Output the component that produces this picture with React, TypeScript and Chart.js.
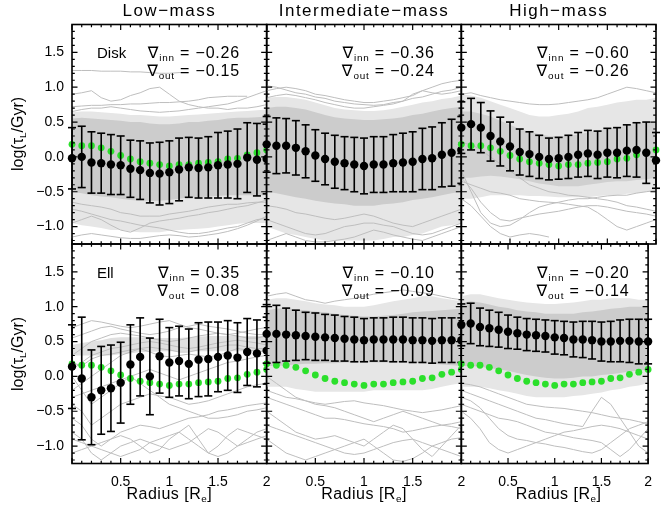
import React, { useEffect, useRef } from "react";
import { Chart, registerables } from "chart.js";

Chart.register(...registerables);

// ---------------- data ----------------
const RADIUS = [0, 0.1, 0.2, 0.3, 0.4, 0.5, 0.6, 0.7, 0.8, 0.9, 1, 1.1, 1.2, 1.3, 1.4, 1.5, 1.6, 1.7, 1.8, 1.9, 2];
const X_TICKS = [0.5, 1, 1.5, 2];
const Y_TICKS = [-1, -0.5, 0, 0.5, 1, 1.5];
const Y_MIN = -1.25;
const Y_MAX = 1.9;
const COLUMN_TITLES = ["Low\u2212mass", "Intermediate\u2212mass", "High\u2212mass"];
const ROW_LABELS = ["Disk", "Ell"];

// reference profile (green)
const GREEN_PROFILE = [0.18, 0.16, 0.16, 0.13, 0.08, 0.02, -0.03, -0.07, -0.09, -0.11, -0.13, -0.11, -0.11, -0.09, -0.08, -0.07, -0.03, -0.02, 0.03, 0.06, 0.1];

// gradients
const GRAD_INN = ["\u22120.26", "\u22120.36", "\u22120.60", "0.35", "\u22120.10", "\u22120.20"];
const GRAD_OUT = ["\u22120.15", "\u22120.24", "\u22120.26", "0.08", "\u22120.09", "\u22120.14"];

// ---- Disk, low mass
const LOW_DISK_MEAN = [-0.02, 0.0, -0.08, -0.09, -0.11, -0.12, -0.17, -0.19, -0.23, -0.24, -0.22, -0.18, -0.15, -0.16, -0.15, -0.12, -0.11, -0.1, -0.01, -0.04, -0.03];
const LOW_DISK_ERR = [0.44, 0.44, 0.44, 0.43, 0.43, 0.42, 0.41, 0.42, 0.43, 0.45, 0.45, 0.45, 0.43, 0.43, 0.44, 0.47, 0.48, 0.5, 0.5, 0.52, 0.5];
const LOW_DISK_CORE_HI = [0.55, 0.56, 0.55, 0.54, 0.53, 0.52, 0.5, 0.5, 0.48, 0.47, 0.47, 0.48, 0.5, 0.5, 0.52, 0.53, 0.55, 0.56, 0.56, 0.57, 0.58];
const LOW_DISK_CORE_LO = [-0.5, -0.52, -0.55, -0.57, -0.58, -0.6, -0.62, -0.63, -0.63, -0.63, -0.62, -0.6, -0.58, -0.58, -0.57, -0.56, -0.55, -0.55, -0.55, -0.55, -0.55];
const LOW_DISK_OUTER_HI = [0.64, 0.65, 0.65, 0.64, 0.63, 0.62, 0.6, 0.6, 0.59, 0.58, 0.58, 0.59, 0.6, 0.61, 0.62, 0.63, 0.64, 0.65, 0.66, 0.67, 0.68];
const LOW_DISK_OUTER_LO = [-0.95, -0.98, -1.0, -1.02, -1.05, -1.05, -1.07, -1.08, -1.08, -1.08, -1.06, -1.05, -1.04, -1.03, -1.02, -1.0, -0.98, -0.96, -0.95, -0.95, -0.95];
const LOW_DISK_LINES = [
  [1.24, 1.24, 1.24, 1.23, 1.23, 1.23, 1.22, 1.22, 1.21, 1.2, 1.2, 1.21, 1.21, null, null, null, null, null, null, null, null],
  [0.72, 0.73, 0.74, 0.74, 0.75, 0.75, 0.76, 0.76, 0.77, 0.78, 0.78, 0.79, 0.8, 0.82, 0.85, 0.86, 0.87, 0.87, 0.87, null, null],
  [0.9, 0.92, 0.95, 0.85, 0.8, 0.82, 0.88, 0.92, 0.98, 1.0, 0.9, 0.8, 0.75, 0.72, 0.7, 0.7, 0.68, 0.7, 0.7, 0.72, 0.75],
  [0.65, 0.68, 0.7, 0.7, 0.72, 0.7, 0.68, 0.66, 0.65, 0.64, 0.65, 0.66, 0.68, 0.7, 0.72, 0.74, 0.76, 0.8, 0.85, 0.9, 0.95],
  [-1.15, -1.12, -1.1, -1.12, -1.14, -1.16, -1.17, -1.17, -1.15, -1.13, -1.12, -1.13, -1.15, -1.14, -1.12, -1.1, -1.07, -1.03, -0.98, -0.92, -0.85],
  [-0.95, -0.9, -0.85, -0.9, -0.98, -1.05, -1.08, -1.02, -0.95, -0.92, -0.9, -0.88, -0.85, -0.83, -0.8, -0.78, -0.75, -0.72, -0.7, -0.66, -0.62],
  [-0.75, -0.78, -0.82, -0.86, -0.9, -0.92, -0.95, -0.98, -1.0, -1.02, -1.05, -1.08, -1.1, -1.1, -1.08, -1.05, -1.02, -1.0, -0.95, -0.9, -0.88],
  [-0.65, -0.68, -0.7, -0.72, -0.75, -0.8, -0.82, -0.85, -0.85, -0.85, -0.82, -0.8, -0.78, -0.75, -0.72, -0.7, -0.68, -0.68, -0.66, -0.65, -0.65],
];

// ---- Disk, intermediate mass
const INT_DISK_MEAN = [0.18, 0.16, 0.16, 0.13, 0.08, 0.02, -0.03, -0.07, -0.09, -0.11, -0.13, -0.11, -0.11, -0.09, -0.08, -0.07, -0.03, -0.02, 0.03, 0.06, 0.1];
const INT_DISK_ERR = [0.4, 0.4, 0.39, 0.39, 0.38, 0.37, 0.37, 0.38, 0.38, 0.39, 0.4, 0.4, 0.4, 0.41, 0.42, 0.43, 0.44, 0.45, 0.46, 0.48, 0.48];
const INT_DISK_CORE_HI = [0.7, 0.72, 0.72, 0.7, 0.68, 0.64, 0.6, 0.57, 0.55, 0.54, 0.53, 0.53, 0.54, 0.55, 0.57, 0.6, 0.62, 0.65, 0.68, 0.7, 0.72];
const INT_DISK_CORE_LO = [-0.5, -0.52, -0.55, -0.58, -0.6, -0.63, -0.65, -0.67, -0.68, -0.7, -0.7, -0.7, -0.68, -0.67, -0.65, -0.62, -0.6, -0.58, -0.55, -0.52, -0.5];
const INT_DISK_OUTER_HI = [0.85, 0.86, 0.86, 0.84, 0.82, 0.78, 0.74, 0.7, 0.68, 0.67, 0.66, 0.66, 0.67, 0.69, 0.72, 0.75, 0.78, 0.8, 0.83, 0.85, 0.88];
const INT_DISK_OUTER_LO = [-1.0, -1.05, -1.1, -1.12, -1.15, -1.18, -1.2, -1.2, -1.2, -1.2, -1.2, -1.2, -1.18, -1.15, -1.15, -1.12, -1.1, -1.05, -1.0, -0.98, -0.95];
const INT_DISK_LINES = [
  [0.95, 0.98, 1.0, 0.98, 0.95, 0.9, 0.88, 0.85, 0.82, 0.8, 0.78, 0.78, 0.8, 0.82, 0.85, 0.88, 0.95, 1.0, 1.05, 1.08, 1.1],
  [0.85, 0.88, 0.9, 0.88, 0.85, 0.82, 0.78, 0.75, 0.72, 0.7, 0.7, 0.72, 0.74, 0.76, 0.8, 0.9, 0.95, 0.92, 0.9, 0.92, 0.95],
  [1.02, 1.0, 0.96, 0.92, 0.9, 0.86, 0.84, 0.8, 0.78, 0.76, 0.75, 0.74, 0.75, 0.78, 0.8, 0.84, 0.86, 0.9, 0.94, 0.96, 1.0],
  [-1.2, -1.15, -1.1, -1.15, -1.2, -1.22, -1.22, -1.2, -1.18, -1.15, -1.1, -1.05, -1.08, -1.12, -1.15, -1.18, -1.2, -1.15, -1.1, -1.05, -1.0],
  [-0.9, -0.95, -1.0, -1.05, -1.1, -1.12, -1.1, -1.05, -1.0, -0.98, -0.95, -0.95, -0.98, -1.0, -1.05, -1.1, -1.12, -1.1, -1.05, -1.0, -0.95],
  [-0.7, -0.72, -0.75, -0.8, -0.82, -0.85, -0.88, -0.9, -0.88, -0.85, -0.82, -0.85, -0.9, -0.95, -0.98, -1.0, -0.95, -0.9, -0.85, -0.8, -0.75],
];

// ---- Disk, high mass
const HIGH_DISK_MEAN = [0.42, 0.47, 0.42, 0.3, 0.22, 0.15, 0.07, 0.04, 0.0, -0.03, -0.02, 0.0, 0.03, 0.05, 0.03, 0.06, 0.06, 0.09, 0.1, 0.06, -0.05];
const HIGH_DISK_ERR = [0.37, 0.37, 0.36, 0.36, 0.35, 0.35, 0.33, 0.32, 0.31, 0.3, 0.3, 0.31, 0.32, 0.33, 0.34, 0.35, 0.36, 0.37, 0.39, 0.44, 0.4];
const HIGH_DISK_CORE_HI = [0.65, 0.65, 0.62, 0.58, 0.52, 0.46, 0.4, 0.36, 0.33, 0.3, 0.3, 0.3, 0.32, 0.35, 0.38, 0.4, 0.42, 0.45, 0.48, 0.5, 0.52];
const HIGH_DISK_CORE_LO = [-0.3, -0.3, -0.28, -0.27, -0.28, -0.3, -0.32, -0.35, -0.38, -0.4, -0.42, -0.42, -0.42, -0.4, -0.38, -0.36, -0.35, -0.35, -0.33, -0.32, -0.3];
const HIGH_DISK_OUTER_HI = [0.9, 0.88, 0.85, 0.8, 0.75, 0.7, 0.65, 0.6, 0.58, 0.58, 0.6, 0.62, 0.65, 0.7, 0.72, 0.75, 0.78, 0.8, 0.82, 0.82, 0.85];
const HIGH_DISK_OUTER_LO = [-0.6, -0.6, -0.58, -0.55, -0.55, -0.55, -0.55, -0.56, -0.56, -0.57, -0.58, -0.58, -0.58, -0.58, -0.56, -0.55, -0.55, -0.53, -0.52, -0.5, -0.5];
const HIGH_DISK_LINES = [
  [0.9, 0.92, 0.88, 0.85, 0.82, 0.8, 0.78, 0.76, 0.75, 0.75, 0.76, 0.78, 0.8, 0.82, 0.85, 0.9, 0.95, 1.0, 0.98, 0.95, 0.92],
  [-0.2, -0.5, -0.8, -0.95, -1.0, -0.98, -0.9, -0.8, -0.72, -0.68, -0.65, -0.62, -0.6, -0.6, -0.58, -0.56, -0.55, -0.55, -0.52, -0.5, -0.48],
  [-0.3, -0.45, -0.65, -0.8, -0.9, -0.92, -0.88, -0.85, -0.82, -0.8, -0.78, -0.75, -0.72, -0.7, -0.7, -0.72, -0.75, -0.78, -0.8, -0.82, -0.85],
  [-0.6, -0.7, -0.85, -1.0, -1.1, -1.15, -1.12, -1.1, -1.12, -1.15, null, null, null, null, null, null, null, null, null, null, null],
  [-0.35, -0.4, -0.45, -0.5, -0.52, -0.55, -0.6, -0.62, -0.64, -0.65, -0.66, -0.68, -0.7, -0.72, -0.8, -0.9, -1.0, -1.05, -1.0, -0.95, -0.9],
  [0.2, 0.18, 0.1, 0.0, -0.1, -0.2, -0.3, -0.4, -0.45, -0.5, -0.52, -0.55, -0.56, -0.58, -0.6, -0.62, -0.65, -0.7, -0.72, -0.75, -0.78],
];

// ---- Ell, low mass
const LOW_ELL_MEAN = [0.14, -0.03, -0.3, -0.2, -0.17, -0.09, 0.17, 0.28, 0.0, 0.29, 0.2, 0.22, 0.18, 0.24, 0.25, 0.28, 0.3, 0.27, 0.35, 0.33, 0.37];
const LOW_ELL_ERR = [0.6, 0.88, 0.68, 0.63, 0.62, 0.58, 0.57, 0.56, 0.55, 0.53, 0.5, 0.5, 0.5, 0.53, 0.53, 0.5, 0.5, 0.5, 0.48, 0.48, 0.48];
const LOW_ELL_CORE_HI = [0.45, 0.48, 0.5, 0.52, 0.55, 0.56, 0.56, 0.56, 0.55, 0.55, 0.55, 0.55, 0.56, 0.57, 0.58, 0.58, 0.58, 0.58, 0.58, 0.58, 0.58];
const LOW_ELL_CORE_LO = [0.3, 0.3, 0.3, 0.3, 0.3, 0.32, 0.33, 0.35, 0.35, 0.36, 0.36, 0.36, 0.36, 0.36, 0.36, 0.36, 0.36, 0.36, 0.36, 0.36, 0.36];
const LOW_ELL_LINES = [
  [0.3, 0.4, 0.5, 0.55, 0.6, 0.62, 0.6, 0.58, 0.55, 0.52, 0.5, 0.52, 0.55, 0.58, 0.6, 0.62, 0.6, 0.58, 0.55, 0.55, 0.58],
  [0.55, 0.6, 0.65, 0.7, 0.72, 0.68, 0.65, 0.62, 0.6, 0.62, 0.65, 0.7, 0.72, 0.75, 0.72, 0.7, 0.68, 0.65, 0.62, 0.6, 0.6],
  [0.1, 0.2, 0.3, 0.35, 0.4, 0.42, 0.45, 0.48, 0.5, 0.48, 0.45, 0.42, 0.4, 0.42, 0.45, 0.48, 0.5, 0.52, 0.5, 0.48, 0.45],
  [0.2, 0.15, 0.25, 0.3, 0.32, 0.35, 0.38, 0.4, 0.42, 0.4, 0.38, 0.35, 0.35, 0.38, 0.4, 0.42, 0.45, 0.45, 0.42, 0.4, 0.4],
  [-0.2, -0.1, 0.0, 0.1, 0.2, 0.3, 0.35, 0.4, 0.35, 0.3, 0.28, 0.3, 0.32, 0.3, 0.28, 0.3, 0.35, 0.4, 0.38, 0.36, 0.35],
  [0.0, -0.2, -0.4, -0.3, -0.2, -0.1, 0.0, 0.05, 0.1, 0.05, 0.0, -0.05, 0.0, 0.05, 0.1, 0.15, 0.2, 0.22, 0.25, 0.28, 0.3],
  [-0.4, -0.5, -0.7, -0.6, -0.5, -0.4, -0.35, -0.3, -0.25, -0.28, -0.3, -0.35, -0.4, -0.38, -0.35, -0.3, -0.25, -0.2, -0.15, -0.12, -0.1],
  [-0.6, -0.7, -0.9, -1.0, -0.9, -0.8, -0.75, -0.7, -0.72, -0.75, -0.7, -0.65, -0.6, -0.58, -0.55, -0.5, -0.48, -0.45, -0.42, -0.4, -0.38],
  [-0.8, -0.9, -1.1, -1.2, -1.1, -1.0, -0.95, -0.9, -0.95, -1.0, -1.05, -1.0, -0.95, -0.85, -0.75, -0.8, -0.9, -1.0, -0.95, -0.9, -0.85],
  [-0.9, -0.95, -1.0, -0.95, -0.9, -0.85, -0.9, -1.0, -1.1, -1.05, -0.9, -0.8, -0.7, -0.9, -1.1, -1.0, -0.85, -0.75, -0.8, -0.85, -0.9],
  [-1.1, -1.05, -1.0, -1.05, -1.1, -1.15, -1.1, -1.05, -0.95, -0.9, -0.85, -0.8, -0.9, -1.0, -1.1, -1.15, -1.1, -1.0, -0.9, -0.8, -0.75],
  [0.7, 0.75, 0.8, 0.78, 0.75, 0.72, 0.7, 0.72, 0.75, 0.78, 0.8, 0.75, 0.7, 0.68, 0.65, 0.62, 0.6, 0.62, 0.65, 0.68, 0.7],
  [-0.3, -0.25, -0.2, -0.15, -0.1, -0.05, 0.0, -0.1, -0.2, -0.3, -0.4, -0.45, -0.5, -0.55, -0.6, -0.6, -0.58, -0.55, -0.5, -0.48, -0.45],
];

// ---- Ell, intermediate mass
const INT_ELL_MEAN = [0.61, 0.61, 0.6, 0.59, 0.58, 0.57, 0.56, 0.55, 0.54, 0.53, 0.52, 0.53, 0.53, 0.53, 0.53, 0.52, 0.52, 0.51, 0.52, 0.52, 0.52];
const INT_ELL_ERR = [0.42, 0.41, 0.38, 0.36, 0.34, 0.34, 0.33, 0.33, 0.32, 0.32, 0.31, 0.31, 0.31, 0.32, 0.32, 0.32, 0.32, 0.32, 0.32, 0.32, 0.32];
const INT_ELL_CORE_HI = [0.95, 0.97, 0.98, 0.96, 0.95, 0.93, 0.92, 0.9, 0.88, 0.87, 0.86, 0.86, 0.87, 0.88, 0.9, 0.92, 0.93, 0.94, 0.95, 0.96, 0.97];
const INT_ELL_CORE_LO = [0.15, 0.15, 0.16, 0.17, 0.18, 0.18, 0.19, 0.19, 0.2, 0.2, 0.2, 0.2, 0.2, 0.2, 0.2, 0.2, 0.19, 0.18, 0.17, 0.16, 0.15];
const INT_ELL_OUTER_HI = [1.1, 1.12, 1.12, 1.1, 1.08, 1.05, 1.03, 1.02, 1.0, 1.0, 1.0, 1.02, 1.05, 1.08, 1.1, 1.12, 1.15, 1.15, 1.12, 1.1, 1.08];
const INT_ELL_OUTER_LO = [-0.15, -0.15, -0.15, -0.18, -0.2, -0.22, -0.22, -0.22, -0.22, -0.22, -0.22, -0.2, -0.2, -0.2, -0.2, -0.2, -0.2, -0.18, -0.15, -0.12, -0.1];
const INT_ELL_LINES = [
  [-0.3, -0.35, -0.4, -0.45, -0.5, -0.55, -0.6, -0.6, -0.62, -0.65, -0.68, -0.7, -0.72, -0.75, -0.8, -0.78, -0.75, -0.72, -0.7, -0.68, -0.65],
  [-0.5, -0.6, -0.7, -0.8, -0.85, -0.9, -0.88, -0.85, -0.9, -0.95, -1.0, -0.9, -0.8, -0.7, -0.75, -0.9, -1.05, -1.15, -1.0, -0.85, -0.7],
  [0.0, -0.1, -0.2, -0.3, -0.35, -0.4, -0.42, -0.45, -0.5, -0.55, -0.6, -0.65, -0.6, -0.55, -0.5, -0.55, -0.6, -0.65, -0.7, -0.72, -0.75],
  [-0.9, -1.0, -1.1, -1.15, -1.2, -1.15, -1.1, -1.05, -1.0, -0.95, -0.9, -1.0, -1.1, -1.2, -1.22, -1.18, -1.1, -1.0, -0.95, -0.9, -0.88],
  [-0.2, -0.25, -0.3, -0.32, -0.35, -0.38, -0.4, -0.38, -0.36, -0.35, -0.38, -0.4, -0.42, -0.45, -0.48, -0.5, -0.52, -0.5, -0.48, -0.45, -0.42],
  [1.15, 1.18, 1.2, 1.15, 1.1, 1.08, 1.05, 1.08, 1.1, 1.12, 1.15, 1.18, 1.2, 1.22, 1.24, 1.22, 1.2, 1.18, 1.15, 1.12, 1.1],
  [-0.7, -0.75, -0.8, -0.85, -0.9, -0.95, -1.0, -1.05, -1.1, -1.12, -1.1, -1.05, -1.0, -0.95, -0.92, -0.9, -0.95, -1.0, -1.05, -1.1, -1.15],
];

// ---- Ell, high mass
const HIGH_ELL_MEAN = [0.74, 0.76, 0.71, 0.69, 0.67, 0.64, 0.62, 0.6, 0.59, 0.58, 0.56, 0.55, 0.53, 0.53, 0.52, 0.5, 0.5, 0.51, 0.51, 0.5, 0.5];
const HIGH_ELL_ERR = [0.3, 0.29, 0.27, 0.26, 0.25, 0.24, 0.23, 0.23, 0.23, 0.23, 0.24, 0.24, 0.25, 0.26, 0.27, 0.28, 0.29, 0.3, 0.31, 0.32, 0.32];
const HIGH_ELL_CORE_HI = [1.05, 1.08, 1.06, 1.03, 1.0, 0.98, 0.95, 0.93, 0.92, 0.9, 0.9, 0.9, 0.9, 0.92, 0.93, 0.95, 0.97, 0.98, 1.0, 1.0, 1.0];
const HIGH_ELL_CORE_LO = [0.15, 0.15, 0.14, 0.12, 0.1, 0.08, 0.05, 0.02, 0.0, -0.02, -0.03, -0.03, -0.02, 0.0, 0.0, 0.02, 0.03, 0.05, 0.07, 0.08, 0.1];
const HIGH_ELL_OUTER_HI = [1.15, 1.18, 1.18, 1.15, 1.12, 1.1, 1.08, 1.06, 1.05, 1.04, 1.04, 1.05, 1.06, 1.08, 1.1, 1.1, 1.12, 1.12, 1.12, 1.1, 1.1];
const HIGH_ELL_OUTER_LO = [-0.15, -0.15, -0.15, -0.17, -0.2, -0.22, -0.25, -0.28, -0.3, -0.3, -0.3, -0.3, -0.28, -0.27, -0.25, -0.23, -0.2, -0.18, -0.15, -0.13, -0.1];
const HIGH_ELL_LINES = [
  [-0.3, -0.35, -0.45, -0.6, -0.75, -0.85, -0.9, -0.92, -0.95, -0.97, -1.0, -1.02, -1.05, -1.08, -1.1, -1.05, -0.95, -0.85, -0.75, -0.7, -0.65],
  [-0.5, -0.6, -0.75, -0.95, -1.05, -1.1, -1.05, -1.0, -0.95, -0.9, -0.85, -0.8, -0.78, -0.75, -0.72, -0.7, -0.72, -0.75, -0.8, -0.85, -0.9],
  [-0.2, -0.25, -0.3, -0.35, -0.4, -0.45, -0.5, -0.55, -0.6, -0.62, -0.65, -0.68, -0.7, -0.72, -0.5, -0.3, -0.4, -0.6, -0.8, -1.0, -1.1],
  [-0.4, -0.45, -0.5, -0.55, -0.6, -0.62, -0.65, -0.7, -0.75, -0.8, -0.82, -0.85, -0.88, -0.9, -0.92, -0.95, -1.05, -1.15, -1.05, -0.9, -0.75],
  [-0.1, -0.12, -0.15, -0.2, -0.25, -0.3, -0.35, -0.4, -0.42, -0.44, -0.45, -0.46, -0.48, -0.5, -0.52, -0.55, -0.58, -0.6, -0.62, -0.65, -0.68],
];

type Num = number | null;
interface Panel {
  key: string; row: number; col: number;
  mean: number[]; err: number[];
  coreHi: number[]; coreLo: number[];
  outerHi?: number[]; outerLo?: number[];
  coreColor: string;
  lines: Num[][];
}

const CORE_GRAY = "#cccccc";
const OUTER_GRAY = "#e6e6e6";

const PANELS: Panel[] = [
  { key: "lowDisk", row: 0, col: 0, mean: LOW_DISK_MEAN, err: LOW_DISK_ERR, coreHi: LOW_DISK_CORE_HI, coreLo: LOW_DISK_CORE_LO, outerHi: LOW_DISK_OUTER_HI, outerLo: LOW_DISK_OUTER_LO, coreColor: CORE_GRAY, lines: LOW_DISK_LINES },
  { key: "intDisk", row: 0, col: 1, mean: INT_DISK_MEAN, err: INT_DISK_ERR, coreHi: INT_DISK_CORE_HI, coreLo: INT_DISK_CORE_LO, outerHi: INT_DISK_OUTER_HI, outerLo: INT_DISK_OUTER_LO, coreColor: CORE_GRAY, lines: INT_DISK_LINES },
  { key: "highDisk", row: 0, col: 2, mean: HIGH_DISK_MEAN, err: HIGH_DISK_ERR, coreHi: HIGH_DISK_CORE_HI, coreLo: HIGH_DISK_CORE_LO, outerHi: HIGH_DISK_OUTER_HI, outerLo: HIGH_DISK_OUTER_LO, coreColor: "#d0d0d0", lines: HIGH_DISK_LINES },
  { key: "lowEll", row: 1, col: 0, mean: LOW_ELL_MEAN, err: LOW_ELL_ERR, coreHi: LOW_ELL_CORE_HI, coreLo: LOW_ELL_CORE_LO, coreColor: "#e0e0e0", lines: LOW_ELL_LINES },
  { key: "intEll", row: 1, col: 1, mean: INT_ELL_MEAN, err: INT_ELL_ERR, coreHi: INT_ELL_CORE_HI, coreLo: INT_ELL_CORE_LO, outerHi: INT_ELL_OUTER_HI, outerLo: INT_ELL_OUTER_LO, coreColor: CORE_GRAY, lines: INT_ELL_LINES },
  { key: "highEll", row: 1, col: 2, mean: HIGH_ELL_MEAN, err: HIGH_ELL_ERR, coreHi: HIGH_ELL_CORE_HI, coreLo: HIGH_ELL_CORE_LO, outerHi: HIGH_ELL_OUTER_HI, outerLo: HIGH_ELL_OUTER_LO, coreColor: CORE_GRAY, lines: HIGH_ELL_LINES },
];

// ---------------- layout & style ----------------
const CANVAS_W = 662;
const CANVAS_H = 515;
const COL_LEFT = [72, 266.67, 461.33];
const PANEL_W = 194.67;
const ROW_TOP = [24.5, 244];
const PANEL_H = 219.5;
const FONT = '"Liberation Sans", Arial, "DejaVu Sans", sans-serif';
const GRAY = "#bebebe";
const GREEN = "#2be02b";

const pts = (arr: Num[]) => RADIUS.map((r, i) => ({ x: r, y: arr[i] }));
const errPts = (mean: number[], err: number[]) => {
  const out: { x: number; y: number | null }[] = [];
  RADIUS.forEach((r, i) => {
    out.push({ x: r, y: mean[i] - err[i] }, { x: r, y: mean[i] + err[i] }, { x: r, y: null });
  });
  return out;
};

const frameTicks = {
  id: "frameTicks",
  afterDatasetsDraw(chart: any) {
    const { ctx, chartArea: a, scales } = chart;
    const xs = scales.x, ys = scales.y;
    ctx.save();
    ctx.strokeStyle = "#000";
    ctx.lineWidth = 1.2;
    ctx.beginPath();
    for (let i = 0; i <= 20; i++) {
      const px = xs.getPixelForValue(i / 10);
      const len = i % 5 === 0 ? 5.5 : 2.8;
      ctx.moveTo(px, a.bottom); ctx.lineTo(px, a.bottom - len);
      ctx.moveTo(px, a.top); ctx.lineTo(px, a.top + len);
    }
    for (let i = -12; i <= 19; i++) {
      const py = ys.getPixelForValue(i / 10);
      const len = i % 5 === 0 ? 5.5 : 2.8;
      ctx.moveTo(a.left, py); ctx.lineTo(a.left + len, py);
      ctx.moveTo(a.right, py); ctx.lineTo(a.right - len, py);
    }
    ctx.stroke();
    ctx.lineWidth = 1.6;
    ctx.strokeRect(a.left, a.top, a.right - a.left, a.bottom - a.top);
    ctx.restore();
  },
};

function buildConfig(p: Panel): any {
  const isLeft = p.col === 0;
  const isBottom = p.row === 1;
  const datasets: any[] = [];
  const band = (hi: number[], lo: number[], color: string, order: number) => {
    datasets.push({ data: pts(hi), fill: "+1", backgroundColor: color, borderColor: "rgba(0,0,0,0)", borderWidth: 0, pointRadius: 0, order });
    datasets.push({ data: pts(lo), fill: false, backgroundColor: "rgba(0,0,0,0)", borderColor: "rgba(0,0,0,0)", borderWidth: 0, pointRadius: 0, order });
  };
  if (p.outerHi && p.outerLo) band(p.outerHi, p.outerLo, OUTER_GRAY, 30);
  band(p.coreHi, p.coreLo, p.coreColor, 29);
  p.lines.forEach((l) => {
    datasets.push({ data: pts(l), borderColor: GRAY, borderWidth: 1, pointRadius: 0, fill: false, order: 20 });
  });
  datasets.push({ data: pts(GREEN_PROFILE), showLine: false, pointRadius: 3.4, pointBackgroundColor: GREEN, pointBorderWidth: 0, clip: false, order: 3 });
  datasets.push({
    data: errPts(p.mean, p.err), borderColor: "#000", borderWidth: 1.6, spanGaps: false, fill: false,
    pointStyle: "line", pointRadius: 4, pointBorderColor: "#000", pointBorderWidth: 1.6, clip: false, order: 2,
  });
  datasets.push({ data: pts(p.mean), showLine: false, pointRadius: 4.2, pointBackgroundColor: "#000", pointBorderWidth: 0, clip: false, order: 1 });

  const tickFont = { family: FONT, size: 14 };
  return {
    type: "line",
    data: { datasets },
    options: {
      responsive: false,
      animation: false,
      devicePixelRatio: 1,
      events: [],
      elements: { line: { tension: 0 } },
      layout: {
        padding: {
          left: isLeft ? 0 : COL_LEFT[p.col],
          right: CANVAS_W - COL_LEFT[p.col] - PANEL_W,
          top: ROW_TOP[p.row],
          bottom: isBottom ? 0 : CANVAS_H - ROW_TOP[p.row] - PANEL_H,
        },
      },
      plugins: { legend: { display: false }, tooltip: { enabled: false }, title: { display: false } },
      scales: {
        x: {
          type: "linear", min: 0, max: 2, display: isBottom,
          grid: { display: false, drawTicks: false }, border: { display: false },
          afterBuildTicks: (s: any) => { s.ticks = X_TICKS.map((v) => ({ value: v })); },
          ticks: { font: tickFont, color: "#000", padding: 10, maxRotation: 0, autoSkip: false, callback: (v: any) => String(v) },
          afterFit: isBottom ? (s: any) => { s.height = CANVAS_H - ROW_TOP[1] - PANEL_H; } : undefined,
        },
        y: {
          type: "linear", min: Y_MIN, max: Y_MAX, display: isLeft,
          grid: { display: false, drawTicks: false }, border: { display: false },
          afterBuildTicks: (s: any) => { s.ticks = Y_TICKS.map((v) => ({ value: v })); },
          ticks: { font: tickFont, color: "#000", padding: 8, autoSkip: false, callback: (v: any) => Number(v).toFixed(1).replace("-", "\u2212") },
          afterFit: isLeft ? (s: any) => { s.width = COL_LEFT[0]; } : undefined,
        },
      },
    },
    plugins: [frameTicks],
  };
}

const subStyle: React.CSSProperties = { fontSize: "0.62em", verticalAlign: "-0.3em", lineHeight: 0 };

export default function App() {
  const refs = useRef<(HTMLCanvasElement | null)[]>([]);
  useEffect(() => {
    document.body.style.margin = "0";
    const charts = PANELS.map((p, i) => new Chart(refs.current[i] as HTMLCanvasElement, buildConfig(p)));
    return () => charts.forEach((c) => c.destroy());
  }, []);

  const text: React.CSSProperties = { position: "absolute", whiteSpace: "pre", color: "#000", fontFamily: FONT };
  return (
    <div style={{ position: "relative", width: CANVAS_W, height: CANVAS_H, background: "#fff", overflow: "hidden" }}>
      {PANELS.map((p, i) => (
        <canvas key={p.key} ref={(el) => { refs.current[i] = el; }} width={CANVAS_W} height={CANVAS_H}
          style={{ position: "absolute", left: 0, top: 0, width: CANVAS_W, height: CANVAS_H }} />
      ))}
      {COLUMN_TITLES.map((t, c) => (
        <div key={t} style={{ ...text, left: COL_LEFT[c], width: PANEL_W, top: 0, height: 22, lineHeight: "22px", textAlign: "center", fontSize: 17, letterSpacing: 1.5 }}>{t}</div>
      ))}
      {ROW_LABELS.map((t, r) => (
        <div key={t} style={{ ...text, left: COL_LEFT[0] + 25, top: ROW_TOP[r] + 28.5 - 9, lineHeight: "18px", fontSize: 15 }}>{t}</div>
      ))}
      {PANELS.map((p, i) => (
        <React.Fragment key={p.key + "g"}>
          <div style={{ ...text, right: CANVAS_W - (COL_LEFT[p.col] + 168), top: ROW_TOP[p.row] + 28.5 - 9, lineHeight: "18px", fontSize: 16, letterSpacing: 0.8, textAlign: "right" }}>
            {"\u2207"}<sub style={subStyle}>inn</sub>{" = " + GRAD_INN[i]}
          </div>
          <div style={{ ...text, right: CANVAS_W - (COL_LEFT[p.col] + 168), top: ROW_TOP[p.row] + 46.5 - 9, lineHeight: "18px", fontSize: 16, letterSpacing: 0.8, textAlign: "right" }}>
            {"\u2207"}<sub style={subStyle}>out</sub>{" = " + GRAD_OUT[i]}
          </div>
        </React.Fragment>
      ))}
      {ROW_TOP.map((top, r) => (
        <div key={"yt" + r} style={{ ...text, left: 18, top: top + PANEL_H / 2, fontSize: 16, lineHeight: "18px", transform: "translate(-50%, -50%) rotate(-90deg)" }}>
          log({"\u03c4"}<sub style={subStyle}>L</sub>/Gyr)
        </div>
      ))}
      {COL_LEFT.map((l, c) => (
        <div key={"xt" + c} style={{ ...text, left: l, width: PANEL_W, top: 484, lineHeight: "20px", fontSize: 16, letterSpacing: 0.5, textAlign: "center" }}>
          Radius [R<sub style={subStyle}>e</sub>]
        </div>
      ))}
    </div>
  );
}
